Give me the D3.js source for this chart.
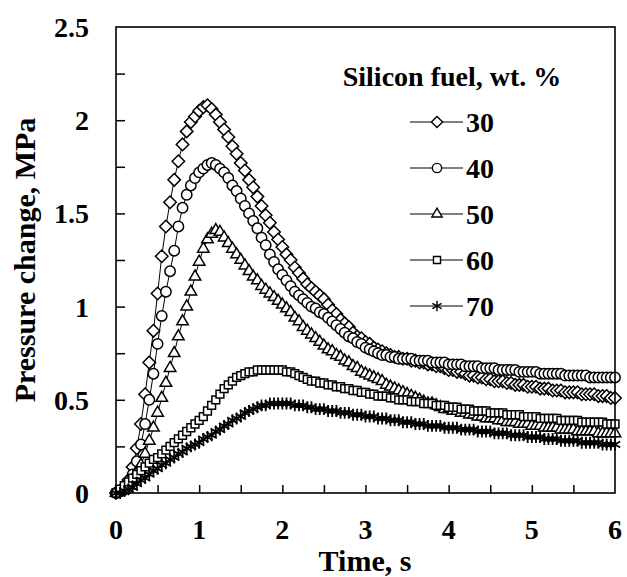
<!DOCTYPE html>
<html><head><meta charset="utf-8">
<script src="https://cdn.jsdelivr.net/npm/d3@7"></script>
<style>
html,body{margin:0;padding:0;background:#fff;}
svg text{font-family:"Liberation Serif","Times New Roman",serif;font-weight:bold;fill:#000;}
</style></head>
<body><svg id="c" width="627" height="577"></svg>
<script>
// sampling interval of the recorded pressure traces (s)
const timeStep = 0.05;
const seriesNames = ["30", "40", "50", "60", "70"];
const legendTitle = "Silicon fuel, wt. %";
const xTicks = [0, 1, 2, 3, 4, 5, 6];
const yTicks = [0, 0.5, 1, 1.5, 2, 2.5];
const yTickLabels = ["0", "0.5", "1", "1.5", "2", "2.5"];

const s30 = [0.00,0.01,0.03,0.07,0.14,0.24,0.37,0.53,0.70,0.87,1.07,1.27,1.43,1.56,1.68,1.78,1.87,1.94,1.99,2.02,
2.05,2.07,2.08,2.06,2.03,1.99,1.95,1.91,1.86,1.82,1.77,1.73,1.68,1.64,1.59,1.54,1.49,1.45,1.40,1.36,
1.32,1.28,1.25,1.21,1.18,1.15,1.12,1.10,1.08,1.06,1.04,1.01,0.98,0.96,0.93,0.91,0.89,0.86,0.84,0.83,
0.81,0.80,0.78,0.77,0.76,0.75,0.74,0.73,0.73,0.72,0.72,0.71,0.71,0.70,0.70,0.69,0.69,0.68,0.68,0.67,
0.66,0.66,0.65,0.65,0.64,0.63,0.63,0.62,0.62,0.61,0.61,0.60,0.60,0.60,0.59,0.59,0.58,0.58,0.58,0.57,
0.57,0.57,0.56,0.56,0.56,0.55,0.55,0.55,0.54,0.54,0.54,0.54,0.53,0.53,0.53,0.53,0.52,0.52,0.52,0.51,0.51];

const s40 = [0.00,0.01,0.02,0.05,0.10,0.17,0.26,0.37,0.50,0.64,0.80,0.95,1.08,1.19,1.30,1.43,1.53,1.60,1.65,1.69,
1.72,1.74,1.76,1.77,1.76,1.74,1.72,1.69,1.65,1.62,1.58,1.54,1.50,1.46,1.42,1.37,1.33,1.28,1.24,1.20,
1.17,1.14,1.11,1.08,1.06,1.04,1.02,1.00,0.99,0.97,0.96,0.94,0.92,0.90,0.88,0.86,0.84,0.83,0.81,0.80,
0.78,0.77,0.76,0.75,0.74,0.74,0.73,0.73,0.72,0.72,0.72,0.72,0.71,0.71,0.71,0.71,0.70,0.70,0.70,0.70,
0.69,0.69,0.69,0.69,0.68,0.68,0.68,0.68,0.67,0.67,0.67,0.67,0.66,0.66,0.66,0.66,0.66,0.65,0.65,0.65,
0.65,0.65,0.64,0.64,0.64,0.64,0.64,0.64,0.63,0.63,0.63,0.63,0.63,0.63,0.62,0.62,0.62,0.62,0.62,0.62,0.62];

const s50 = [0.00,0.01,0.02,0.04,0.07,0.11,0.15,0.21,0.28,0.35,0.43,0.51,0.59,0.67,0.75,0.84,0.92,1.00,1.08,1.16,
1.24,1.31,1.36,1.39,1.41,1.40,1.37,1.34,1.31,1.28,1.25,1.22,1.19,1.16,1.14,1.11,1.09,1.07,1.05,1.03,
1.01,0.99,0.97,0.94,0.92,0.89,0.87,0.85,0.83,0.81,0.79,0.77,0.76,0.74,0.73,0.71,0.70,0.68,0.67,0.65,
0.64,0.63,0.62,0.61,0.60,0.58,0.57,0.56,0.55,0.54,0.53,0.52,0.51,0.50,0.49,0.48,0.48,0.47,0.46,0.45,
0.45,0.44,0.44,0.43,0.43,0.42,0.42,0.41,0.41,0.40,0.40,0.40,0.39,0.39,0.38,0.38,0.38,0.37,0.37,0.37,
0.36,0.36,0.36,0.35,0.35,0.35,0.35,0.34,0.34,0.34,0.34,0.33,0.33,0.33,0.33,0.33,0.32,0.32,0.32,0.32,0.32];

const s60 = [0.00,0.02,0.04,0.06,0.08,0.10,0.12,0.14,0.16,0.18,0.19,0.21,0.23,0.25,0.27,0.29,0.31,0.33,0.35,0.37,
0.39,0.41,0.44,0.47,0.50,0.53,0.56,0.58,0.60,0.62,0.63,0.64,0.65,0.65,0.66,0.66,0.66,0.66,0.66,0.66,
0.66,0.65,0.65,0.64,0.63,0.62,0.61,0.60,0.60,0.59,0.59,0.58,0.58,0.57,0.57,0.56,0.56,0.55,0.55,0.54,
0.54,0.53,0.53,0.52,0.52,0.52,0.51,0.51,0.50,0.50,0.50,0.49,0.49,0.49,0.48,0.48,0.48,0.47,0.47,0.47,
0.46,0.46,0.46,0.45,0.45,0.45,0.44,0.44,0.44,0.44,0.43,0.43,0.43,0.43,0.42,0.42,0.42,0.42,0.41,0.41,
0.41,0.41,0.40,0.40,0.40,0.40,0.40,0.39,0.39,0.39,0.39,0.39,0.38,0.38,0.38,0.38,0.38,0.38,0.37,0.37,0.37];

const s70 = [0.00,0.00,0.01,0.02,0.03,0.05,0.07,0.08,0.10,0.12,0.13,0.15,0.16,0.18,0.19,0.21,0.22,0.24,0.25,0.26,
0.27,0.29,0.30,0.31,0.33,0.34,0.36,0.37,0.39,0.40,0.41,0.43,0.44,0.45,0.46,0.47,0.47,0.48,0.48,0.48,
0.48,0.48,0.48,0.47,0.47,0.47,0.46,0.46,0.45,0.45,0.45,0.44,0.44,0.44,0.43,0.43,0.43,0.42,0.42,0.42,
0.41,0.41,0.41,0.40,0.40,0.40,0.39,0.39,0.39,0.38,0.38,0.38,0.37,0.37,0.37,0.36,0.36,0.36,0.36,0.35,
0.35,0.35,0.35,0.34,0.34,0.34,0.34,0.33,0.33,0.33,0.33,0.32,0.32,0.32,0.32,0.31,0.31,0.31,0.31,0.30,
0.30,0.30,0.30,0.29,0.29,0.29,0.29,0.28,0.28,0.28,0.28,0.28,0.27,0.27,0.27,0.27,0.27,0.26,0.26,0.26,0.26];

const seriesValues = [s30, s40, s50, s60, s70];
const times = s30.map((_, i) => +(i * timeStep).toFixed(2));

const svg = d3.select("#c");
const x = d3.scaleLinear().domain([0, 6]).range([116, 615]);
const y = d3.scaleLinear().domain([0, 2.5]).range([493, 27]);

const symbols = [d3.symbolDiamond2, d3.symbolCircle, d3.symbolTriangle2, d3.symbolSquare2, d3.symbolAsterisk];
const sizes = [100, 85, 95, 78, 100];
const strokeW = [1.5, 1.5, 1.5, 1.5, 1.8];

// series
const line = d3.line().x(d => x(d[0])).y(d => y(d[1]));
seriesValues.forEach((vals, si) => {
  const pts = vals.map((v, i) => [times[i], v]);
  const g = svg.append("g");
  g.append("path").attr("d", line(pts)).attr("fill", "none").attr("stroke", "#000").attr("stroke-width", 1);
  const sym = d3.symbol().type(symbols[si]).size(sizes[si]);
  g.selectAll("path.m").data(pts).join("path").attr("class", "m")
    .attr("d", sym)
    .attr("transform", d => `translate(${x(d[0])},${y(d[1])})`)
    .attr("fill", si === 4 ? "none" : "#fff")
    .attr("stroke", "#000").attr("stroke-width", strokeW[si]);
});

// frame
svg.append("rect").attr("x", 116).attr("y", 27).attr("width", 499).attr("height", 466)
  .attr("fill", "none").attr("stroke", "#000").attr("stroke-width", 1.6);

// axes (ticks inward)
const xAxis = d3.axisBottom(x).tickValues(d3.range(0.5, 6, 0.5)).tickSize(-8).tickFormat("");
svg.append("g").attr("transform", "translate(0,493)").call(xAxis)
  .call(g => g.select(".domain").remove())
  .call(g => g.selectAll("line").attr("stroke-width", 1.5));
const yAxis = d3.axisLeft(y).tickValues(d3.range(0.25, 2.5, 0.25)).tickSize(-9).tickFormat("");
svg.append("g").attr("transform", "translate(116,0)").call(yAxis)
  .call(g => g.select(".domain").remove())
  .call(g => g.selectAll("line").attr("stroke-width", 1.5));

// tick labels
svg.append("g").selectAll("text").data(xTicks).join("text")
  .attr("x", d => x(d)).attr("y", 539).attr("text-anchor", "middle")
  .attr("font-size", 28).text(d => d);
svg.append("g").selectAll("text").data(yTicks).join("text")
  .attr("x", 89).attr("y", d => y(d) + 10).attr("text-anchor", "end")
  .attr("font-size", 28).text((d, i) => yTickLabels[i]);

// axis titles
svg.append("text").attr("x", 365).attr("y", 571).attr("text-anchor", "middle")
  .attr("font-size", 30).text("Time, s");
svg.append("text").attr("transform", "translate(35,260) rotate(-90)").attr("text-anchor", "middle")
  .attr("font-size", 30).text("Pressure change, MPa");

// legend
svg.append("text").attr("x", 452).attr("y", 86).attr("text-anchor", "middle")
  .attr("font-size", 28).text(legendTitle);
const legY = [122, 168, 214, 260, 306];
seriesNames.forEach((name, si) => {
  const g = svg.append("g").attr("transform", `translate(0,${legY[si]})`);
  g.append("line").attr("x1", 410).attr("x2", 463).attr("y1", 0).attr("y2", 0)
    .attr("stroke", "#000").attr("stroke-width", 1.2);
  g.append("path").attr("d", d3.symbol().type(symbols[si]).size(sizes[si] * 0.8)())
    .attr("transform", "translate(437,0)")
    .attr("fill", si === 4 ? "none" : "#fff").attr("stroke", "#000").attr("stroke-width", 1.4);
  g.append("text").attr("x", 466).attr("y", 10).attr("font-size", 28).text(name);
});
</script></body></html>
